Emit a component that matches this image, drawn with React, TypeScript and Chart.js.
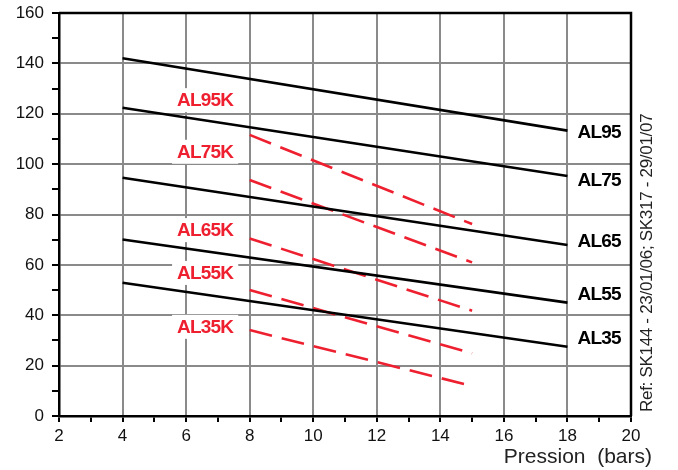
import React, { useEffect, useRef } from "react";
import { Chart, registerables } from "chart.js";

Chart.register(...registerables);

// ---- data ----
const solidNames = ["AL95", "AL75", "AL65", "AL55", "AL35"];
const solidX = [4, 18];
const solidStart = [142, 122.4, 94.6, 70.1, 52.9];
const solidEnd = [113.3, 95.3, 67.9, 45, 27.5];
const solidLabelX = 19;
const solidLabelY = [113, 93.7, 69.6, 48.4, 31];

const dashedNames = ["AL95K", "AL75K", "AL65K", "AL55K", "AL35K"];
const dashedX = [8, 15];
const dashedStart = [111.6, 93.7, 70.5, 50, 34.1];
const dashedEnd = [76.2, 61, 41.8, 24.9, 11.9];
const dashedLabelX = 6.6;
const dashedLabelY = [125.4, 104.9, 73.8, 56.8, 35.4];

const xMin = 2, xMax = 20, xLabelStep = 2;
const yMin = 0, yMax = 160, yLabelStep = 20;

const xTitle = "Pression  (bars)";
const refText = "Ref: SK144 - 23/01/06; SK317 - 29/01/07";

const FONT = "'Liberation Sans', Arial, Helvetica, sans-serif";
const RED = "#ee2030";

const annotations = {
  id: "annotations",
  beforeDatasetsDraw(chart: any) {
    const { ctx, scales } = chart;
    const x = scales.x, y = scales.y;
    ctx.save();
    ctx.textAlign = "center";
    ctx.textBaseline = "middle";
    ctx.font = `bold 19px ${FONT}`;
    try { (ctx as any).letterSpacing = "-0.8px"; } catch (e) {}
    const drawLabel = (text: string, px: number, py: number, color: string) => {
      const w = ctx.measureText(text).width;
      ctx.fillStyle = "#fff";
      ctx.fillRect(px - w / 2 - 5, py - 12, w + 10, 24);
      ctx.fillStyle = color;
      ctx.fillText(text, px, py + 1);
    };
    dashedNames.forEach((n, i) =>
      drawLabel(n, x.getPixelForValue(dashedLabelX), y.getPixelForValue(dashedLabelY[i]), RED)
    );
    solidNames.forEach((n, i) =>
      drawLabel(n, x.getPixelForValue(solidLabelX), y.getPixelForValue(solidLabelY[i]), "#000")
    );
    ctx.restore();
  },
  afterDraw(chart: any) {
    const { ctx, chartArea } = chart;
    ctx.save();
    // top & right frame
    ctx.strokeStyle = "#000";
    ctx.lineWidth = 2.5;
    ctx.beginPath();
    ctx.moveTo(chartArea.left, chartArea.top);
    ctx.lineTo(chartArea.right, chartArea.top);
    ctx.lineTo(chartArea.right, chartArea.bottom);
    ctx.stroke();
    // x title
    ctx.fillStyle = "#222";
    ctx.font = `21px ${FONT}`;
    ctx.textAlign = "right";
    ctx.textBaseline = "alphabetic";
    ctx.fillText(xTitle, chartArea.right + 21, 463);
    // reference text
    ctx.font = `17px ${FONT}`;
    try { (ctx as any).letterSpacing = "-0.3px"; } catch (e) {}
    ctx.translate(chartArea.right + 16, chartArea.bottom - 4);
    ctx.rotate(-Math.PI / 2);
    ctx.textAlign = "left";
    ctx.textBaseline = "middle";
    ctx.fillText(refText, 0, 0);
    ctx.restore();
  },
};

export default function App() {
  const ref = useRef<HTMLCanvasElement>(null);
  useEffect(() => {
    if (!ref.current) return;
    const datasets: any[] = [];
    solidNames.forEach((n, i) => {
      datasets.push({
        label: n,
        data: [
          { x: solidX[0], y: solidStart[i] },
          { x: solidX[1], y: solidEnd[i] },
        ],
        borderColor: "#000",
        borderWidth: 2.6,
        pointRadius: 0,
        fill: false,
      });
    });
    dashedNames.forEach((n, i) => {
      datasets.push({
        label: n,
        data: [
          { x: dashedX[0], y: dashedStart[i] },
          { x: dashedX[1], y: dashedEnd[i] },
        ],
        borderColor: RED,
        borderWidth: 2.6,
        borderDash: [23, 10],
        pointRadius: 0,
        fill: false,
      });
    });
    const gridColor = (step: number) => (c: any) =>
      c.tick && Math.round(c.tick.value) % step === 0 ? "#8a8a8a" : "rgba(0,0,0,0)";
    const chart = new Chart(ref.current, {
      type: "line",
      data: { datasets },
      plugins: [annotations],
      options: {
        animation: false,
        responsive: true,
        maintainAspectRatio: false,
        layout: { padding: { left: 0, top: 13, right: 47, bottom: 0 } },
        plugins: { legend: { display: false }, tooltip: { enabled: false } },
        scales: {
          x: {
            type: "linear",
            min: xMin,
            max: xMax,
            afterFit: (s: any) => { s.height = 54; },
            ticks: {
              stepSize: 1,
              autoSkip: false,
              maxRotation: 0,
              padding: 4,
              color: "#111",
              font: { family: FONT, size: 17 },
              callback: (v: any) => (Math.round(v) % xLabelStep === 0 ? String(v) : ""),
            },
            grid: { color: gridColor(xLabelStep), lineWidth: 2, tickColor: "#000", tickLength: 6 },
            border: { color: "#000", width: 2.5 },
          },
          y: {
            type: "linear",
            min: yMin,
            max: yMax,
            afterFit: (s: any) => { s.width = 59; s.paddingTop = 0; s.paddingBottom = 0; },
            ticks: {
              stepSize: 10,
              autoSkip: false,
              padding: 8,
              color: "#111",
              font: { family: FONT, size: 17 },
              callback: (v: any) => (Math.round(v) % yLabelStep === 0 ? String(v) : ""),
            },
            grid: { color: gridColor(yLabelStep), lineWidth: 2, tickColor: "#000", tickLength: 7 },
            border: { color: "#000", width: 2.5 },
          },
        },
      },
    });
    return () => chart.destroy();
  }, []);
  return (
    <div style={{ position: "fixed", left: 0, top: 0, width: 678, height: 470, background: "#fff" }}>
      <canvas ref={ref} />
    </div>
  );
}
